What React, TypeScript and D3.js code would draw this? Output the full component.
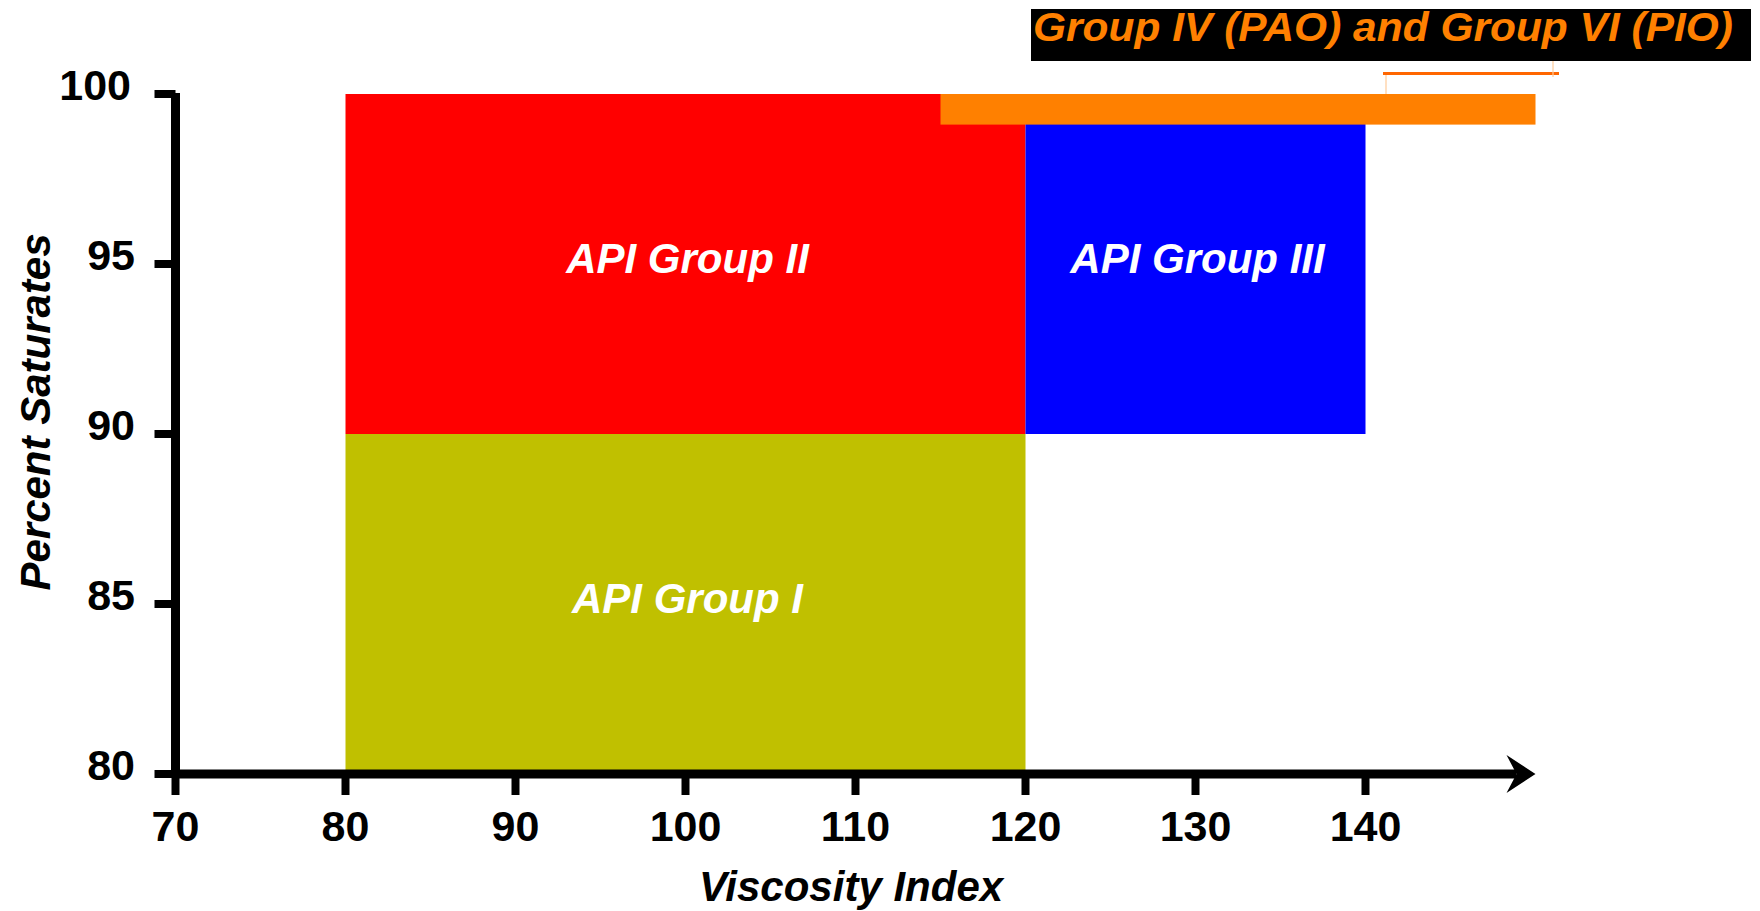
import React from "react";
import * as d3 from "d3";

const groupNames = ["API Group I", "API Group II", "API Group III"];
const groupColors = ["#C0C000", "#FF0000", "#0000FF"];
const viMin = [80, 80, 120];
const viMax = [120, 120, 140];
const satMin = [80, 90, 90];
const satMax = [90, 100, 100];
const labelSat = [85, 95, 95];

const pioName = "Group IV (PAO) and Group VI (PIO)";
const pioVi = [115, 150];
const pioSat = [99.1, 100];

const xTicks = [70, 80, 90, 100, 110, 120, 130, 140];
const yTicks = [80, 85, 90, 95, 100];
const xTitle = "Viscosity Index";
const yTitle = "Percent Saturates";

const FONT = "'Liberation Sans', Arial, Helvetica, sans-serif";

export default function App() {
  const x = d3.scaleLinear().domain([70, 150]).range([175.5, 1535.5]);
  const y = d3.scaleLinear().domain([80, 100]).range([774, 94]);

  const axisW = 9;
  const tickW = 8;
  const tickLen = 21;
  const x0 = x(70);
  const y0 = y(80);
  const tipX = x(150);
  const arrow = d3.path();
  arrow.moveTo(tipX, y0);
  arrow.lineTo(tipX - 29, y0 - 19);
  arrow.lineTo(tipX - 19, y0);
  arrow.lineTo(tipX - 29, y0 + 19);
  arrow.closePath();

  return (
    <svg
      width={1760}
      height={911}
      style={{ position: "absolute", left: 0, top: 0, background: "#fff" }}
      fontFamily={FONT}
    >
      <rect x={0} y={0} width={1760} height={911} fill="#fff" />
      {groupNames.map((g, i) => (
        <rect
          key={g}
          x={x(viMin[i])}
          y={y(satMax[i])}
          width={x(viMax[i]) - x(viMin[i])}
          height={y(satMin[i]) - y(satMax[i])}
          fill={groupColors[i]}
        />
      ))}
      <rect
        x={x(pioVi[0])}
        y={y(pioSat[1])}
        width={x(pioVi[1]) - x(pioVi[0])}
        height={y(pioSat[0]) - y(pioSat[1])}
        fill="#FF8000"
      />
      {groupNames.map((g, i) => (
        <text
          key={g + "l"}
          x={x((viMin[i] + viMax[i]) / 2) + 2}
          y={y(labelSat[i]) + 9}
          textAnchor="middle"
          fill="#fff"
          fontSize={42}
          fontWeight="bold"
          fontStyle="italic"
        >
          {g}
        </text>
      ))}

      {/* axes */}
      <line x1={x0} x2={x0} y1={y(100) - 1} y2={y0} stroke="#000" strokeWidth={axisW} />
      <line x1={x0} x2={tipX - 19} y1={y0} y2={y0} stroke="#000" strokeWidth={axisW} />
      <path d={arrow.toString()} fill="#000" />
      {xTicks.map((t) => (
        <g key={"xt" + t}>
          <line x1={x(t)} x2={x(t)} y1={y0} y2={y0 + tickLen} stroke="#000" strokeWidth={tickW} />
          <text
            x={x(t)}
            y={841}
            textAnchor="middle"
            fontSize={43}
            fontWeight="bold"
            fill="#000"
          >
            {t}
          </text>
        </g>
      ))}
      {yTicks.map((t) => (
        <g key={"yt" + t}>
          <line x1={x0 - tickLen} x2={x0} y1={y(t)} y2={y(t)} stroke="#000" strokeWidth={tickW} />
          <text
            x={t === 100 ? 131 : 135}
            y={y(t) + 6}
            textAnchor="end"
            fontSize={43}
            fontWeight="bold"
            fill="#000"
          >
            {t}
          </text>
        </g>
      ))}
      <text
        x={851}
        y={901}
        textAnchor="middle"
        fontSize={42}
        fontWeight="bold"
        fontStyle="italic"
        fill="#000"
      >
        {xTitle}
      </text>
      <text
        transform="translate(50,412) rotate(-90)"
        textAnchor="middle"
        fontSize={42}
        fontWeight="bold"
        fontStyle="italic"
        fill="#000"
      >
        {yTitle}
      </text>

      {/* PIO legend/title */}
      <rect x={1031} y={9} width={720} height={52} fill="#000" />
      <text
        x={1033}
        y={41}
        fontSize={40}
        fontWeight="bold"
        fontStyle="italic"
        fill="#FF8000"
        textLength={700}
        lengthAdjust="spacingAndGlyphs"
      >
        {pioName}
      </text>
      <line x1={1383} x2={1559} y1={73.5} y2={73.5} stroke="#FF6600" strokeWidth={3} />
      <line x1={1386} x2={1386} y1={75} y2={94} stroke="#FFCC99" strokeWidth={1.2} />
      <line x1={1553} x2={1553} y1={61} y2={77} stroke="#FFCC99" strokeWidth={1.2} />
    </svg>
  );
}
